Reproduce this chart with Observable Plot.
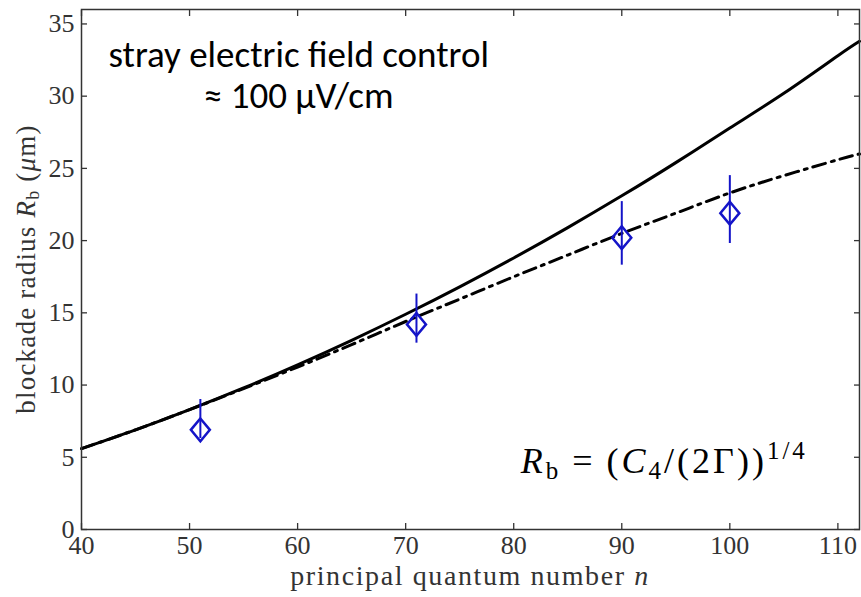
<!DOCTYPE html>
<html><head><meta charset="utf-8">
<script src="https://cdn.jsdelivr.net/npm/d3@7"></script>
<script src="https://cdn.jsdelivr.net/npm/@observablehq/plot@0.6"></script>
<style>
body{margin:0;background:#fff;}
#chart{width:861px;height:597px;}
</style></head><body><div id="chart"></div>
<script>
// theory curves
const curveN     = [40, 45, 50, 55, 60, 65, 70, 75, 80, 85, 90, 95, 100, 105, 110, 112];
const solidR     = [5.6, 6.9, 8.3, 9.8, 11.4, 13.1, 14.9, 16.8, 18.8, 20.9, 23.1, 25.4, 27.8, 30.2, 32.8, 33.8];
const dashDotR   = [5.6, 6.9, 8.3, 9.75, 11.25, 12.8, 14.4, 15.95, 17.5, 19.0, 20.5, 21.9, 23.3, 24.5, 25.6, 26.0];
// experimental points
const expN  = [51, 71, 90, 100];
const expR  = [6.9, 14.2, 20.2, 21.9];
const expLo = [6.3, 12.9, 18.3, 19.8];
const expHi = [9.0, 16.3, 22.7, 24.5];
// ticks
const xTicks = [40, 50, 60, 70, 80, 90, 100, 110];
const yTicks = [0, 5, 10, 15, 20, 25, 30, 35];
const annotation = ["stray electric field control\n≈ 100 μV/cm"];

const curve = curveN.map((n, i) => ({n, solid: solidR[i], dd: dashDotR[i]}));
const exp = expN.map((n, i) => ({n, r: expR[i], lo: expLo[i], hi: expHi[i]}));

const blue = "#1414c8";
const axisColor = "#333";
const serif = "'Liberation Serif', 'Times New Roman', serif";
const sans = "Carlito, Lato, 'Open Sans', sans-serif";

const diamond = {
  draw(ctx, size) {
    const r = Math.sqrt(size / Math.PI);
    const h = r * 1.2;
    ctx.moveTo(0, -h); ctx.lineTo(r, 0); ctx.lineTo(0, h); ctx.lineTo(-r, 0); ctx.closePath();
  }
};

const tickLen = 6;
const plot = Plot.plot({
  width: 861, height: 597,
  marginLeft: 81, marginRight: 2, marginTop: 9, marginBottom: 68,
  style: {fontFamily: serif, background: "white", color: axisColor},
  x: {domain: [40, 112], label: null},
  y: {domain: [0, 36], label: null},
  marks: [
    Plot.line(curve, {x: "n", y: "solid", stroke: "#000", strokeWidth: 3, curve: "natural"}),
    Plot.line(curve, {x: "n", y: "dd", stroke: "#000", strokeWidth: 3, strokeDasharray: "13,6,3,6", curve: "natural"}),
    Plot.ruleX(exp, {x: "n", y1: "lo", y2: "hi", stroke: blue, strokeWidth: 2}),
    Plot.dot(exp, {x: "n", y: "r", symbol: diamond, r: 9.5, stroke: blue, strokeWidth: 2.5, fill: "none"}),
    Plot.frame({stroke: axisColor, strokeWidth: 1.5}),
    // inward ticks on all four sides
    Plot.axisX(xTicks, {anchor: "bottom", tickSize: tickLen, dy: -tickLen, fill: "none", label: null, stroke: axisColor, strokeWidth: 1.3}),
    Plot.axisX(xTicks, {anchor: "top", tickSize: tickLen, dy: tickLen, fill: "none", label: null, stroke: axisColor, strokeWidth: 1.3}),
    Plot.axisY(yTicks, {anchor: "left", tickSize: tickLen, dx: tickLen, fill: "none", label: null, stroke: axisColor, strokeWidth: 1.3}),
    Plot.axisY(yTicks, {anchor: "right", tickSize: tickLen, dx: -tickLen, fill: "none", label: null, stroke: axisColor, strokeWidth: 1.3}),
    // tick labels
    Plot.axisX(xTicks, {anchor: "bottom", tickSize: 0, tickPadding: 6, fontSize: 26, label: null, fill: axisColor}),
    Plot.axisY(yTicks, {anchor: "left", tickSize: 0, tickPadding: 7, fontSize: 26, label: null, fill: axisColor}),
    // annotation (two lines in one text)
    Plot.text(annotation, {x: () => 60.1, y: () => 29.2, text: d => d, textAnchor: "middle", lineAnchor: "bottom", lineHeight: 1.11, fontSize: 37, fontFamily: sans, fill: "#000"})
  ]
});
document.getElementById("chart").appendChild(plot);

const sx = plot.scale("x"), sy = plot.scale("y");
const svg = d3.select(plot);

// formula R_b = (C_4/(2Γ))^{1/4}
const f = svg.append("text")
  .attr("x", sx.apply(80.7)).attr("y", sy.apply(3.88))
  .attr("text-anchor", "start").attr("letter-spacing", 3)
  .attr("font-family", serif).attr("font-size", 36).attr("fill", "#000");
f.append("tspan").attr("font-style", "italic").text("R");
f.append("tspan").attr("font-size", 25).attr("dy", 6).text("b");
f.append("tspan").attr("dy", -6).attr("dx", 11).text("=");
f.append("tspan").attr("dx", 11).text("(");
f.append("tspan").attr("font-style", "italic").text("C");
f.append("tspan").attr("font-size", 25).attr("dy", 6).text("4");
f.append("tspan").attr("dy", -6).text("/(2Γ))");
f.append("tspan").attr("font-size", 25).attr("dy", -14).text("1/4");

// x label
const xl = svg.append("text")
  .attr("x", (sx.apply(40) + sx.apply(112)) / 2).attr("y", 585)
  .attr("text-anchor", "middle").attr("letter-spacing", 1.6)
  .attr("font-family", serif).attr("font-size", 28).attr("fill", axisColor);
xl.append("tspan").text("principal quantum number ");
xl.append("tspan").attr("font-style", "italic").text("n");

// y label
const yc = (sy.apply(0) + sy.apply(36)) / 2;
const yl = svg.append("text")
  .attr("transform", `translate(35,${yc}) rotate(-90)`)
  .attr("text-anchor", "middle").attr("letter-spacing", 1.2)
  .attr("font-family", serif).attr("font-size", 27).attr("fill", axisColor);
yl.append("tspan").text("blockade radius ");
yl.append("tspan").attr("font-style", "italic").text("R");
yl.append("tspan").attr("font-size", 18).attr("dy", 4).text("b");
yl.append("tspan").attr("dy", -4).text(" (");
yl.append("tspan").attr("font-style", "italic").text("μ");
yl.append("tspan").text("m)");
</script></body></html>
